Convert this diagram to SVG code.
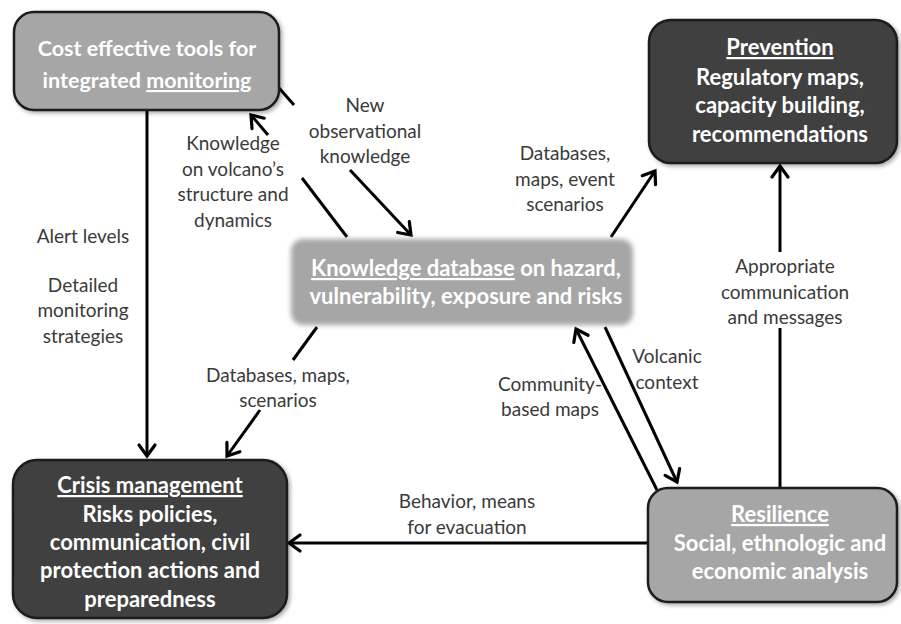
<svg xmlns="http://www.w3.org/2000/svg" width="901" height="624" viewBox="0 0 901 624">
<style>
.box{stroke:#1a1a1a;stroke-width:2.5}
.light{fill:#a6a6a6}
.dark{fill:#404040}
.bt{font-family:Lato,"Liberation Sans",sans-serif;font-weight:bold;font-size:22px;fill:#ffffff;text-anchor:middle}
.lb{font-family:Lato,"Liberation Sans",sans-serif;font-size:19px;fill:#3a3a3a;text-anchor:middle}
.ln{stroke:#000;stroke-width:3;fill:none}
.u{text-decoration:underline}
</style>
<defs>
<marker id="ah" markerUnits="userSpaceOnUse" markerWidth="24" markerHeight="24" refX="0" refY="0" viewBox="-14 -12 18 24" orient="auto" overflow="visible">
<path d="M-11,-8 L0,0 L-11,8" fill="none" stroke="#000" stroke-width="3.2" stroke-linecap="round" stroke-linejoin="miter"/>
</marker>
<filter id="soft" x="-10%" y="-20%" width="120%" height="140%">
<feGaussianBlur stdDeviation="2.5"/>
</filter>
<filter id="sh" x="-10%" y="-10%" width="125%" height="125%">
<feGaussianBlur in="SourceAlpha" stdDeviation="2"/>
<feOffset dx="2" dy="2" result="b"/>
<feComponentTransfer><feFuncA type="linear" slope="0.35"/></feComponentTransfer>
<feMerge><feMergeNode/><feMergeNode in="SourceGraphic"/></feMerge>
</filter>
</defs>

<g id="connectors">
<line class="ln" x1="147" y1="111" x2="147" y2="456" marker-end="url(#ah)"/>
<line class="ln" x1="347" y1="237" x2="302" y2="178"/>
<line class="ln" x1="268" y1="135" x2="251" y2="115" marker-end="url(#ah)"/>
<line class="ln" x1="279" y1="88" x2="294" y2="105"/>
<line class="ln" x1="350" y1="170" x2="411" y2="235" marker-end="url(#ah)"/>
<line class="ln" x1="611" y1="237" x2="655" y2="171" marker-end="url(#ah)"/>
<line class="ln" x1="317" y1="327" x2="293" y2="360"/>
<line class="ln" x1="260" y1="410" x2="227" y2="456" marker-end="url(#ah)"/>
<line class="ln" x1="657" y1="490" x2="576" y2="329" marker-end="url(#ah)"/>
<line class="ln" x1="605" y1="327" x2="677" y2="482" marker-end="url(#ah)"/>
<line class="ln" x1="780" y1="488" x2="780" y2="328"/>
<line class="ln" x1="780" y1="252" x2="780" y2="166" marker-end="url(#ah)"/>
<line class="ln" x1="648" y1="543" x2="289" y2="543" marker-end="url(#ah)"/>

<g id="labels">
<text class="lb" x="83" y="243">Alert levels</text>
<text class="lb"><tspan x="83" y="292">Detailed</tspan><tspan x="83" y="317">monitoring</tspan><tspan x="83" y="343">strategies</tspan></text>
<text class="lb"><tspan x="233" y="150">Knowledge</tspan><tspan x="233" y="176">on volcano’s</tspan><tspan x="233" y="201">structure and</tspan><tspan x="233" y="227">dynamics</tspan></text>
<text class="lb"><tspan x="365" y="112">New</tspan><tspan x="365" y="138">observational</tspan><tspan x="365" y="163">knowledge</tspan></text>
<text class="lb"><tspan x="565" y="160">Databases,</tspan><tspan x="565" y="186">maps, event</tspan><tspan x="565" y="211">scenarios</tspan></text>
<text class="lb"><tspan x="278" y="382">Databases, maps,</tspan><tspan x="278" y="407">scenarios</tspan></text>
<text class="lb"><tspan x="550" y="391">Community-</tspan><tspan x="550" y="416">based maps</tspan></text>
<text class="lb"><tspan x="667" y="363">Volcanic</tspan><tspan x="667" y="389">context</tspan></text>
<text class="lb"><tspan x="785" y="273">Appropriate</tspan><tspan x="785" y="299">communication</tspan><tspan x="785" y="324">and messages</tspan></text>
<text class="lb"><tspan x="467" y="508">Behavior, means</tspan><tspan x="467" y="534">for evacuation</tspan></text>
</g>
</g>

<g id="cost">
<rect class="box light" x="14" y="12" width="265" height="98" rx="20" filter="url(#sh)"/>
<text class="bt" style="font-size:21.5px"><tspan x="147" y="56">Cost effective tools for</tspan><tspan x="147" y="88">integrated <tspan class="u">monitoring</tspan></tspan></text>
</g>

<g id="prevention">
<rect class="box dark" x="649" y="20" width="248" height="143" rx="22" filter="url(#sh)"/>
<text class="bt"><tspan x="780" y="55" class="u">Prevention</tspan><tspan x="780" y="85">Regulatory maps,</tspan><tspan x="780" y="113">capacity building,</tspan><tspan x="780" y="142">recommendations</tspan></text>
</g>

<g id="knowledge">
<rect x="291" y="239" width="342" height="86" rx="12" fill="#a6a6a6" filter="url(#soft)"/>
<text class="bt"><tspan x="466" y="276"><tspan class="u">Knowledge database</tspan> on hazard,</tspan><tspan x="466" y="304">vulnerability, exposure and risks</tspan></text>
</g>

<g id="crisis">
<rect class="box dark" x="13" y="460" width="274" height="158" rx="24" filter="url(#sh)"/>
<text class="bt"><tspan x="150" y="493" class="u">Crisis management</tspan><tspan x="150" y="522">Risks policies,</tspan><tspan x="150" y="550">communication, civil</tspan><tspan x="150" y="578">protection actions and</tspan><tspan x="150" y="607">preparedness</tspan></text>
</g>

<g id="resilience">
<rect class="box light" x="648" y="488" width="249" height="114" rx="20" filter="url(#sh)"/>
<text class="bt"><tspan x="780" y="522" class="u">Resilience</tspan><tspan x="780" y="551">Social, ethnologic and</tspan><tspan x="780" y="579">economic analysis</tspan></text>
</g>
</svg>
